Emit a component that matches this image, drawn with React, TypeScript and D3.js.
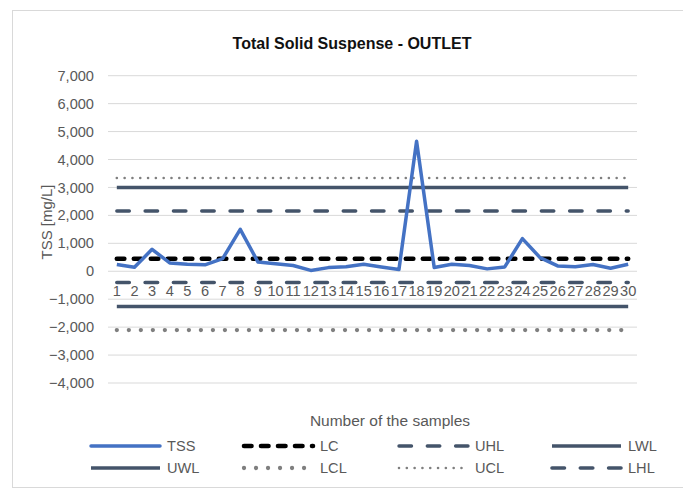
import React from "react";
import * as d3 from "d3";

const categories = [1,2,3,4,5,6,7,8,9,10,11,12,13,14,15,16,17,18,19,20,21,22,23,24,25,26,27,28,29,30];
const tss = [240,143,785,298,250,230,450,1500,335,270,205,30,130,160,250,155,65,4650,135,250,205,85,155,1170,490,190,165,240,110,250];
const yTicks = [7000,6000,5000,4000,3000,2000,1000,0,-1000,-2000,-3000,-4000];

const limitNames = ["LC","UHL","LWL","UWL","LCL","UCL","LHL"];
const limitValues = [450,2155,-1260,3000,-2105,3340,-405];

const legendOrder = ["TSS","LC","UHL","LWL","UWL","LCL","UCL","LHL"];

const W = 683, H = 488;
const FONT = "'Liberation Sans', Arial, sans-serif";

type Style = { color: string; width: number; dash?: string; cap?: "round" | "butt" };
const styles: Record<string, Style> = {
  TSS: { color: "#4472C4", width: 3.5, cap: "round" },
  LC: { color: "#000000", width: 4.6, dash: "7.5 9.5", cap: "round" },
  UHL: { color: "#44546A", width: 3.4, dash: "12.5 15.8", cap: "round" },
  LHL: { color: "#44546A", width: 3.6, dash: "12.5 15.8", cap: "round" },
  LWL: { color: "#44546A", width: 3.5, cap: "butt" },
  UWL: { color: "#44546A", width: 3.5, cap: "butt" },
  LCL: { color: "#7F7F7F", width: 4.3, dash: "0.01 12", cap: "round" },
  UCL: { color: "#7F7F7F", width: 2.6, dash: "0.01 7.8", cap: "round" },
};

export default function App() {
  const x = d3.scaleBand<number>().domain(categories).range([108, 637]);
  const y = d3.scaleLinear().domain([-4000, 7000]).range([383, 75.7]);
  const cx = (c: number) => (x(c) as number) + x.bandwidth() / 2;
  const line = d3.line<[number, number]>().x(d => cx(d[0])).y(d => y(d[1]));

  const legendCols = [90, 243, 398, 551];
  const legendRows = [446, 468];

  return (
    <svg width={W} height={H} style={{ position: "absolute", left: 0, top: 0, background: "#fff" }} fontFamily={FONT}>
      <rect x={12.5} y={10.5} width={W + 10} height={477} fill="#fff" stroke="#D9D9D9" strokeWidth={1} />
      <text x={352} y={49} textAnchor="middle" fontSize={16} fontWeight="bold" fill="#111">Total Solid Suspense - OUTLET</text>

      {yTicks.map(t => (
        <g key={t}>
          <line x1={108} x2={637} y1={y(t)} y2={y(t)} stroke="#D9D9D9" strokeWidth={1} />
          <text x={94} y={y(t)} dy="0.35em" textAnchor="end" fontSize={14.6} fill="#595959">{d3.format(",")(t)}</text>
        </g>
      ))}

      <text transform={`translate(52,222) rotate(-90)`} textAnchor="middle" fontSize={15} fill="#595959">TSS [mg/L]</text>

      {categories.map(c => (
        <text key={c} x={cx(c)} y={y(0) + 20} dy="0.35em" textAnchor="middle" fontSize={14.6} fill="#595959">{c}</text>
      ))}

      <text x={390} y={421} dy="0.35em" textAnchor="middle" fontSize={15.5} fill="#595959">Number of the samples</text>

      {limitNames.map((n, i) => {
        const s = styles[n];
        const pts: [number, number][] = [[categories[0], limitValues[i]], [categories[categories.length - 1], limitValues[i]]];
        return (
          <path key={n} d={line(pts) || ""} fill="none" stroke={s.color} strokeWidth={s.width}
            strokeDasharray={s.dash} strokeLinecap={s.cap} />
        );
      })}

      <path d={line(categories.map((c, i) => [c, tss[i]] as [number, number])) || ""} fill="none"
        stroke={styles.TSS.color} strokeWidth={styles.TSS.width} strokeLinejoin="round" />

      {legendOrder.map((n, i) => {
        const s = styles[n];
        const lx = legendCols[i % 4];
        const ly = legendRows[Math.floor(i / 4)];
        return (
          <g key={n}>
            <line x1={lx + 1} x2={lx + 70} y1={ly} y2={ly} stroke={s.color} strokeWidth={s.width}
              strokeDasharray={s.dash} strokeLinecap={s.cap === "round" ? "round" : "butt"} />
            <text x={lx + 77} y={ly} dy="0.35em" fontSize={14.6} fill="#595959">{n}</text>
          </g>
        );
      })}
    </svg>
  );
}
